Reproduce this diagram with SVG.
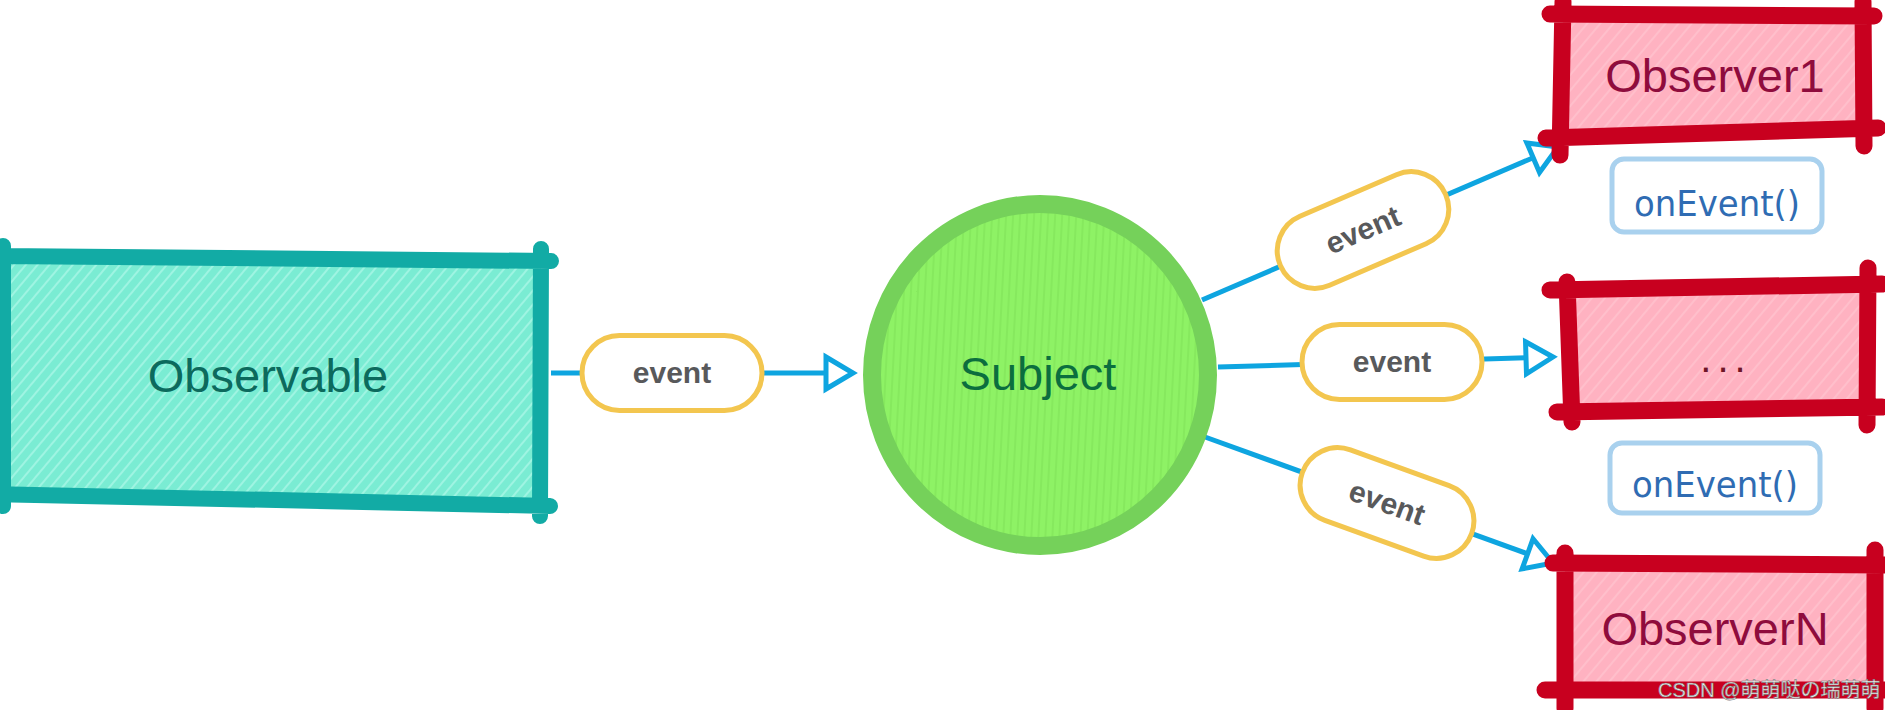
<svg xmlns="http://www.w3.org/2000/svg" width="1885" height="710" viewBox="0 0 1885 710">
<style>
.band{fill:none;stroke-linecap:round;stroke-linejoin:round}
.teal{stroke:#12aba5;stroke-width:16}
.red{stroke:#c8001f;stroke-width:17}
.conn{stroke:#0ea5e0;stroke-width:5;fill:none;marker-end:url(#arrow)}
.pill{fill:#fff;stroke:#f3c64f;stroke-width:5}
.pilltxt{font-family:"Liberation Sans",Arial,sans-serif;font-weight:bold;font-size:30px;fill:#58595b;text-anchor:middle}
.label{font-family:"Liberation Sans",Arial,sans-serif;font-size:47px;text-anchor:middle}
.onev{fill:#fff;stroke:#a9d1ee;stroke-width:5}
.onevtxt{font-family:"DejaVu Sans",sans-serif;font-size:35px;fill:#2f6cb3;text-anchor:middle}
.wm{font-family:"Liberation Sans","Noto Sans CJK SC",sans-serif;font-size:20px;fill:#ececec;stroke:#7a7a7a;stroke-width:0.6}
</style>
<defs>
  <pattern id="hatchTeal" patternUnits="userSpaceOnUse" width="9" height="9" patternTransform="rotate(40)">
    <rect width="9" height="9" fill="#7aecd3"/>
    <line x1="1" y1="0" x2="1" y2="9" stroke="#9ff4e2" stroke-width="2"/>
  </pattern>
  <pattern id="hatchGreen" patternUnits="userSpaceOnUse" width="7" height="40" patternTransform="rotate(3)">
    <rect width="7" height="40" fill="#8ef265"/>
    <line x1="1" y1="0" x2="1" y2="40" stroke="#84e65c" stroke-width="1.5"/>
  </pattern>
  <pattern id="hatchPink" patternUnits="userSpaceOnUse" width="10" height="10" patternTransform="rotate(40)">
    <rect width="10" height="10" fill="#ffb2c1"/>
    <line x1="1" y1="0" x2="1" y2="10" stroke="#ffbfcb" stroke-width="2"/>
  </pattern>
  <marker id="arrow" markerUnits="userSpaceOnUse" markerWidth="44" markerHeight="44" refX="3" refY="21" orient="auto" overflow="visible">
    <path d="M3,5 L30,21 L3,37 Z" fill="#fff" stroke="#0ea5e0" stroke-width="5" stroke-linejoin="miter"/>
  </marker>
</defs>
<rect width="1885" height="710" fill="#fff"/>

<g id="connectors">
  <line class="conn" x1="551" y1="373" x2="826" y2="373"/>
  <line class="conn" x1="1202" y1="300" x2="1533.2" y2="157.7"/>
  <line class="conn" x1="1218" y1="367" x2="1526" y2="357.8"/>
  <line class="conn" x1="1205" y1="437" x2="1527.6" y2="553.8"/>
  <g transform="translate(672,373)">
    <rect class="pill" x="-90" y="-37.5" width="180" height="75" rx="37.5"/>
    <text class="pilltxt" y="10">event</text>
  </g>
  <g transform="translate(1363,230) rotate(-23.3)">
    <rect class="pill" x="-90" y="-37.5" width="180" height="75" rx="37.5"/>
    <text class="pilltxt" y="10">event</text>
  </g>
  <g transform="translate(1392,362)">
    <rect class="pill" x="-90" y="-37.5" width="180" height="75" rx="37.5"/>
    <text class="pilltxt" y="10">event</text>
  </g>
  <g transform="translate(1387,503) rotate(19.9)">
    <rect class="pill" x="-90" y="-37.5" width="180" height="75" rx="37.5"/>
    <text class="pilltxt" y="10">event</text>
  </g>
</g>

<g id="observable">
  <polygon points="3,256 541,261 541,505 3,494" fill="url(#hatchTeal)"/>
  <path class="band teal" d="M-6,256 L551,261 M3,246 L3,506 M541,249 L540,516 M-6,494 L550,506"/>
  <text class="label" x="268" y="392" fill="#0c6a5d">Observable</text>
</g>

<g id="subject">
  <ellipse cx="1040" cy="375" rx="168" ry="171" fill="url(#hatchGreen)" stroke="#75d15a" stroke-width="18"/>
  <text class="label" x="1038" y="390" fill="#0b6e3e">Subject</text>
</g>

<g id="observer1">
  <polygon points="1563,14 1863,16 1864,129 1560,137" fill="url(#hatchPink)"/>
  <path class="band red" d="M1550,14 L1874,16 M1546,138 L1878,128 M1563,2 L1560,155 M1863,2 L1864,146"/>
  <text class="label" x="1715" y="92" fill="#8f0c3d">Observer1</text>
</g>

<g id="observer2">
  <polygon points="1567,288 1868,284 1867,407 1572,412" fill="url(#hatchPink)"/>
  <path class="band red" d="M1550,290 L1882,284 M1557,412 L1882,407 M1567,282 L1572,422 M1868,268 L1867,425"/>
  <text x="1726" y="372" font-family="Liberation Sans, Arial, sans-serif" font-size="40" letter-spacing="6" text-anchor="middle" fill="#6e1426">...</text>
</g>

<g id="observerN">
  <polygon points="1565,563 1875,565 1875,690 1565,690" fill="url(#hatchPink)"/>
  <path class="band red" d="M1553,563 L1885,565 M1545,690 L1885,690 M1565,553 L1565,708 M1875,550 L1875,708"/>
  <text class="label" x="1715" y="645" fill="#8f0c3d">ObserverN</text>
</g>

<g id="onevent1">
  <rect class="onev" x="1612" y="159" width="210" height="73" rx="12"/>
  <text class="onevtxt" x="1717" y="216" textLength="166" lengthAdjust="spacingAndGlyphs">onEvent()</text>
</g>
<g id="onevent2">
  <rect class="onev" x="1610" y="443" width="210" height="70" rx="12"/>
  <text class="onevtxt" x="1715" y="497" textLength="166" lengthAdjust="spacingAndGlyphs">onEvent()</text>
</g>

<text class="wm" x="1658" y="697">CSDN @萌萌哒の瑞萌萌</text>
</svg>
